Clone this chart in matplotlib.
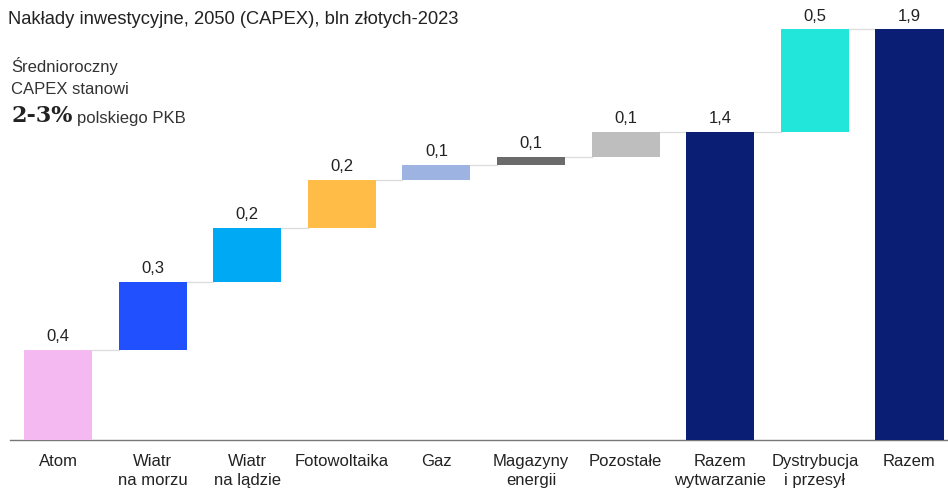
import matplotlib.pyplot as plt

plt.rcParams['font.family'] = ['Liberation Sans', 'DejaVu Sans']

# waterfall data (bln zł)
categories = ['Atom', 'Wiatr\nna morzu', 'Wiatr\nna lądzie', 'Fotowoltaika', 'Gaz',
              'Magazyny\nenergii', 'Pozostałe', 'Razem\nwytwarzanie', 'Dystrybucja\ni przesył', 'Razem']
steps = [0.417, 0.315, 0.25, 0.222, 0.07, 0.037, 0.116, None, 0.473, None]  # None = total bar
value_labels = ['0,4', '0,3', '0,2', '0,2', '0,1', '0,1', '0,1', '1,4', '0,5', '1,9']
colors = ['#F4B9F1', '#2150FF', '#00A9F4', '#FFBC47', '#9DB3E1',
          '#6B6B6B', '#BEBEBE', '#0A1F73', '#22E6D9', '#0A1F73']

fig = plt.figure(figsize=(9.48, 4.97), dpi=100)
ax = fig.add_axes([0, 1 - 440 / 497, 1, 430 / 497])

bar_w = 0.72
running = 0.0
tops = []
for i, (cat, step) in enumerate(zip(categories, steps)):
    if step is None:
        bottom, height = 0.0, running
    else:
        bottom, height = running, step
        running += step
    ax.bar(i, height, bottom=bottom, width=bar_w, color=colors[i], zorder=3)
    top = bottom + height
    tops.append(top)
    ax.text(i, top + 0.025, value_labels[i], ha='center', va='bottom',
            fontsize=12, color='#222222')

# connector lines between bars
for i in range(len(categories) - 1):
    ax.plot([i + bar_w / 2, i + 1 - bar_w / 2], [tops[i], tops[i]],
            color='#DCDCDC', lw=0.9, zorder=2)

ax.set_xlim(-0.613, 9.407)
ax.set_ylim(0, 1.99)
ax.set_xticks(range(len(categories)))
ax.set_xticklabels(categories, fontsize=12, color='#222222', linespacing=1.35)
ax.tick_params(axis='x', length=0, pad=10)
ax.set_yticks([])
for s in ['top', 'right', 'left']:
    ax.spines[s].set_visible(False)
ax.spines['bottom'].set_color('#777777')
ax.spines['bottom'].set_linewidth(1.0)
ax.spines['bottom'].set_bounds(-0.51, 9.407)

fig.text(0.008, 1 - 20 / 497, 'Nakłady inwestycyjne, 2050 (CAPEX), bln złotych-2023',
         fontsize=13.2, color='#222222', va='center')
fig.text(0.012, 1 - 66 / 497, 'Średnioroczny', fontsize=12, color='#333333', va='center')
fig.text(0.012, 1 - 90 / 497, 'CAPEX stanowi', fontsize=12, color='#333333', va='center')
fig.text(0.012, 1 - 116 / 497, '2-3%', fontsize=16, fontweight='bold',
         family='DejaVu Serif', color='#222222', va='center')
fig.text(0.081, 1 - 118 / 497, 'polskiego PKB', fontsize=12, color='#333333', va='center')

fig.savefig('out.png', dpi=100)
